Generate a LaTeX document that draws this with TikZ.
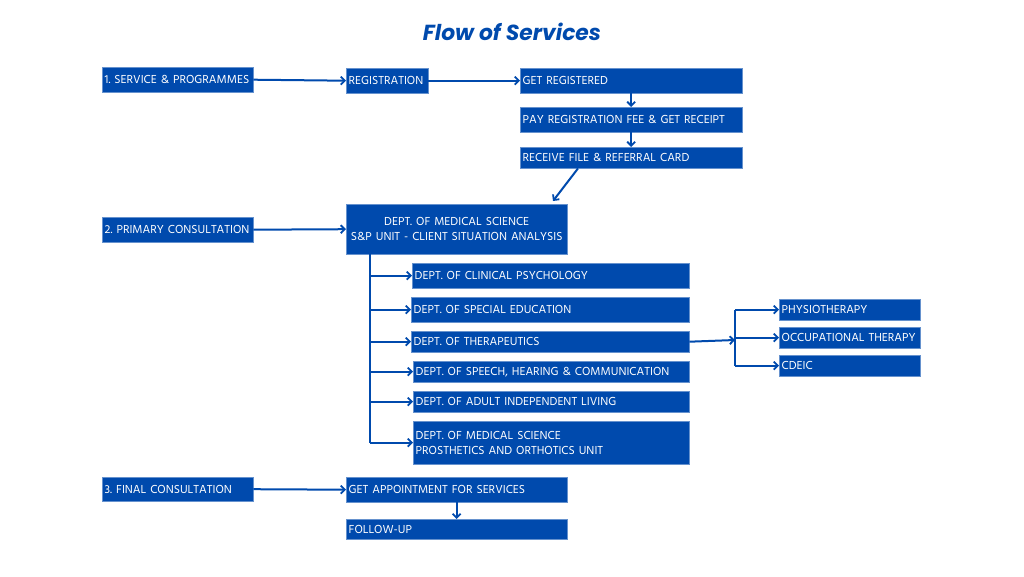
\documentclass[tikz,border=0pt]{standalone}
\usepackage{fontspec}
\setmainfont{Hind Siliguri}
\newfontfamily\titlefont{Poppins}
\usetikzlibrary{arrows.meta,calc}
\definecolor{cobalt}{RGB}{0,74,173}
\frenchspacing
\begin{document}
\begin{tikzpicture}[x=1pt,y=-1pt,
  box/.style={fill=cobalt, text=white, inner xsep=2.5pt, inner ysep=0pt, anchor=north west,
     font=\fontsize{11.9}{14}\selectfont, align=left, draw=cobalt!60!white, line width=0.4pt},
  arr/.style={draw=cobalt, line width=2pt, -{Straight Barb[length=4pt,width=8pt,line width=1.8pt]}},
  ln/.style={draw=cobalt, line width=2pt}]
\useasboundingbox (0,0) rectangle (1024,576);
\node[text=cobalt, font=\titlefont\fontsize{21.8}{24}\selectfont\bfseries\itshape] (title) at (512,32) {Flow of Services};
% row 1
\node[box, text width=146pt, minimum height=25pt] (s1) at (102,67) {1. SERVICE \& PROGRAMMES};
\node[box, text width=77pt, minimum height=25pt] (reg) at (346,68) {REGISTRATION};
\node[box, text width=217pt, minimum height=25pt] (getreg) at (520,68) {GET REGISTERED};
\node[box, text width=217pt, minimum height=25pt] (pay) at (520,107) {PAY REGISTRATION FEE \& GET RECEIPT};
\node[box, text width=217pt, minimum height=21pt] (recv) at (520,147) {RECEIVE FILE \& REFERRAL CARD};
% row 2
\node[box, text width=146pt, minimum height=25pt] (s2) at (102,217) {2. PRIMARY CONSULTATION};
\node[box, text width=216pt, minimum height=50pt, align=center] (med) at (346,204) {DEPT. OF MEDICAL SCIENCE\\[1pt]S\&P UNIT - CLIENT SITUATION ANALYSIS};
\node[box, text width=272pt, minimum height=25pt] (clin) at (412,263) {DEPT. OF CLINICAL PSYCHOLOGY};
\node[box, text width=273pt, minimum height=25pt] (sped) at (411,297) {DEPT. OF SPECIAL EDUCATION};
\node[box, text width=273pt, minimum height=21pt] (ther) at (411,331) {DEPT. OF THERAPEUTICS};
\node[box, text width=271pt, minimum height=21pt] (speech) at (413,361) {DEPT. OF SPEECH, HEARING \& COMMUNICATION};
\node[box, text width=271pt, minimum height=21pt] (adult) at (413,391) {DEPT. OF ADULT INDEPENDENT LIVING};
\node[box, text width=271pt, minimum height=43pt] (pno) at (413,421) {DEPT. OF MEDICAL SCIENCE\\[1pt]PROSTHETICS AND ORTHOTICS UNIT};
\node[box, text width=136pt, minimum height=21pt] (phys) at (779,299) {PHYSIOTHERAPY};
\node[box, text width=136pt, minimum height=21pt] (ot) at (779,327) {OCCUPATIONAL THERAPY};
\node[box, text width=136pt, minimum height=21pt] (cdeic) at (779,355) {CDEIC};
% row 3
\node[box, text width=146pt, minimum height=24pt] (s3) at (102,477) {3. FINAL CONSULTATION};
\node[box, text width=216pt, minimum height=25pt] (appt) at (346,477) {GET APPOINTMENT FOR SERVICES};
\node[box, text width=216pt, minimum height=20pt] (fol) at (346,519) {FOLLOW-UP};
% connectors
\draw[arr] (s1.east) -- (reg.west);
\draw[arr] (reg.east) -- (getreg.west);
\draw[arr] (getreg.south) -- (pay.north);
\draw[arr] (pay.south) -- (recv.north);
\draw[arr] ($(recv.south west)+(58,0)$) -- ($(med.north west)+(207,-3)$);
\draw[arr] (s2.east) -- (med.west);
\coordinate (t) at ($(med.south west)+(24,0)$);
\draw[ln] (t) -- (t |- pno.west);
\foreach \n in {clin,sped,ther,speech,adult,pno} \draw[arr] (t |- \n.west) -- (\n.west);
\coordinate (f) at (735,340);
\draw[arr] (ther.east) -- (f);
\draw[ln] (f |- phys.west) -- (f |- cdeic.west);
\foreach \n in {phys,ot,cdeic} \draw[arr] (f |- \n.west) -- (\n.west);
\draw[arr] (s3.east) -- (appt.west);
\draw[arr] (appt.south) -- (fol.north);
\end{tikzpicture}
\end{document}
